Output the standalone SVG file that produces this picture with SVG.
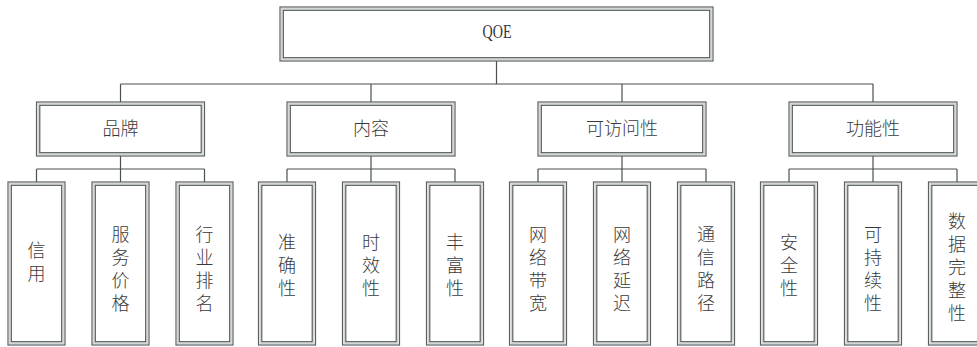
<svg xmlns="http://www.w3.org/2000/svg" width="977" height="347" viewBox="0 0 977 347">
<style>
.o{fill:#fff;stroke:#5a6060;stroke-width:1.2}
.m{fill:none;stroke:#d4d6d6;stroke-width:1.6}
.i{fill:none;stroke:#4a5050;stroke-width:1.1}
.t{font-family:"Noto Sans CJK SC","Noto Sans",sans-serif;font-size:18px;font-weight:300;fill:#3a3a3a;text-anchor:middle}
.v{font-family:"Noto Sans CJK SC","Noto Sans",sans-serif;font-size:18px;font-weight:300;fill:#3a3a3a;text-anchor:middle;writing-mode:vertical-rl;letter-spacing:5px}
.q{font-family:"Liberation Serif",serif;font-size:18px;fill:#333;text-anchor:middle}
.c{fill:none;stroke:#4a5050;stroke-width:1.2}
</style>
<defs>
<g id="pbox"><rect class="o" x="0" y="0" width="168" height="54"/><rect class="m" x="1.8" y="1.8" width="164.4" height="50.4"/><rect class="i" x="3.3" y="3.3" width="161.4" height="47.4"/></g>
<g id="cbox"><rect class="o" x="0" y="0" width="57" height="163"/><rect class="m" x="1.8" y="1.8" width="53.4" height="159.4"/><rect class="i" x="3.3" y="3.3" width="50.4" height="156.4"/></g>
</defs>
<g id="connectors">
<path class="c" d="M496.5 61V84M120.5 84H873M120.5 84V102M371 84V102M622 84V102M873 84V102"/>
<path class="c" d="M120.5 156V169M36.5 169H204.5M36.5 169V182M120.5 169V182M204.5 169V182"/>
<path class="c" d="M371 156V169M287 169H455M287 169V182M371 169V182M455 169V182"/>
<path class="c" d="M622 156V169M538 169H706M538 169V182M622 169V182M706 169V182"/>
<path class="c" d="M873 156V169M789 169H957M789 169V182M873 169V182M957 169V182"/>
</g>
<g id="qoe"><rect class="o" x="280" y="7" width="433" height="54"/><rect class="m" x="281.8" y="8.8" width="429.4" height="50.4"/><rect class="i" x="283.3" y="10.3" width="426.4" height="47.4"/><text class="q" x="497" y="38" textLength="29" lengthAdjust="spacingAndGlyphs">QOE</text></g>
<g id="brand"><use href="#pbox" x="36.5" y="102"/><text class="t" x="120.5" y="135">品牌</text></g>
<g id="content"><use href="#pbox" x="287" y="102"/><text class="t" x="371" y="135">内容</text></g>
<g id="access"><use href="#pbox" x="538" y="102"/><text class="t" x="622" y="135">可访问性</text></g>
<g id="func"><use href="#pbox" x="789" y="102"/><text class="t" x="873" y="135">功能性</text></g>
<g id="xinyong"><use href="#cbox" x="8" y="182"/><text class="v" x="36.5" y="264">信用</text></g>
<g id="fuwujiage"><use href="#cbox" x="92" y="182"/><text class="v" x="120.5" y="271">服务价格</text></g>
<g id="hangye"><use href="#cbox" x="176" y="182"/><text class="v" x="204.5" y="271">行业排名</text></g>
<g id="zhunque"><use href="#cbox" x="258.5" y="182"/><text class="v" x="287" y="268">准确性</text></g>
<g id="shixiao"><use href="#cbox" x="342.5" y="182"/><text class="v" x="371" y="268">时效性</text></g>
<g id="fengfu"><use href="#cbox" x="426.5" y="182"/><text class="v" x="455" y="268">丰富性</text></g>
<g id="daikuan"><use href="#cbox" x="509.5" y="182"/><text class="v" x="538" y="271">网络带宽</text></g>
<g id="yanchi"><use href="#cbox" x="593.5" y="182"/><text class="v" x="622" y="271">网络延迟</text></g>
<g id="lujing"><use href="#cbox" x="677.5" y="182"/><text class="v" x="706" y="271">通信路径</text></g>
<g id="anquan"><use href="#cbox" x="760.5" y="182"/><text class="v" x="789" y="268">安全性</text></g>
<g id="kechixu"><use href="#cbox" x="844.5" y="182"/><text class="v" x="873" y="271">可持续性</text></g>
<g id="wanzheng"><use href="#cbox" x="928.5" y="182"/><text class="v" x="957" y="270">数据完整性</text></g>
</svg>
